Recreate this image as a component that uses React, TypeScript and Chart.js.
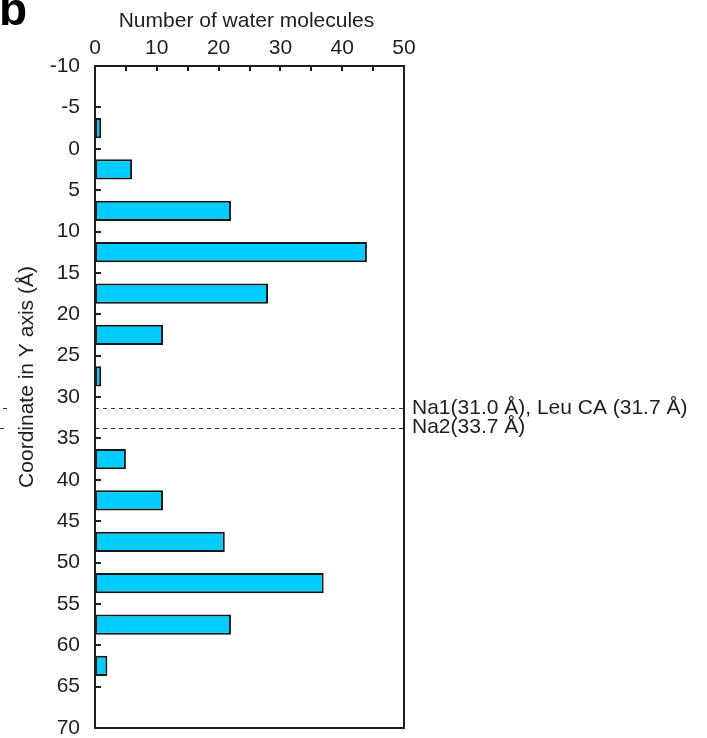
import React, { useEffect, useRef } from 'react';
import { Chart, registerables } from 'chart.js';

Chart.register(...registerables);

// ---- data ----
const binCenters = [-2.5, 2.5, 7.5, 12.5, 17.5, 22.5, 27.5, 37.5, 42.5, 47.5, 52.5, 57.5, 62.5];
const waterCounts = [1, 6, 22, 44, 28, 11, 1, 5, 11, 21, 37, 22, 2];
const markerPositions = [31.35, 33.7];
const markerLabels = ['Na1(31.0 Å), Leu CA (31.7 Å)', 'Na2(33.7 Å)'];
const xTickValues = [0, 10, 20, 30, 40, 50];
const yTickValues = [-10, -5, 0, 5, 10, 15, 20, 25, 30, 35, 40, 45, 50, 55, 60, 65, 70];
const xTitle = 'Number of water molecules';
const yTitle = 'Coordinate in Y axis (Å)';
const panelLetter = 'b';

const FONT = '"Liberation Sans", Arial, Helvetica, sans-serif';
const INK = '#1e1e1e';
const FS = 21;

const overlayPlugin = {
  id: 'overlay',
  afterDatasetsDraw(chart: any) {
    const { ctx, chartArea, scales } = chart;
    const ys = scales.y;
    ctx.save();
    ctx.strokeStyle = '#333';
    ctx.lineWidth = 1;
    ctx.setLineDash([4, 4]);
    markerPositions.forEach((v, i) => {
      const y = Math.round(ys.getPixelForValue(v)) + 0.5;
      ctx.beginPath();
      ctx.moveTo(chartArea.left, y);
      ctx.lineTo(chartArea.right, y);
      ctx.stroke();
      // fragments at far left (continuation of the guide lines)
      ctx.beginPath();
      ctx.moveTo(i === 0 ? 3 : 0, y);
      ctx.lineTo(7, y);
      ctx.stroke();
    });
    ctx.restore();
  },
  afterDraw(chart: any) {
    const { ctx, chartArea, scales } = chart;
    const xs = scales.x;
    const ys = scales.y;
    ctx.save();
    // frame
    ctx.strokeStyle = INK;
    ctx.lineWidth = 2;
    ctx.setLineDash([]);
    ctx.strokeRect(chartArea.left, chartArea.top, chartArea.right - chartArea.left, chartArea.bottom - chartArea.top);
    // inward ticks on top axis (major + minor every 5)
    for (let v = xs.min; v <= xs.max; v += 5) {
      const x = Math.round(xs.getPixelForValue(v));
      ctx.beginPath();
      ctx.moveTo(x, chartArea.top);
      ctx.lineTo(x, chartArea.top + 5);
      ctx.stroke();
    }
    // inward ticks on left axis
    yTickValues.forEach((v) => {
      const y = Math.round(ys.getPixelForValue(v));
      ctx.beginPath();
      ctx.moveTo(chartArea.left, y);
      ctx.lineTo(chartArea.left + 6, y);
      ctx.stroke();
    });
    // axis titles
    ctx.fillStyle = INK;
    ctx.font = `${FS}px ${FONT}`;
    ctx.textAlign = 'center';
    ctx.textBaseline = 'alphabetic';
    ctx.fillText(xTitle, (chartArea.left + chartArea.right) / 2 - 3, 27);
    ctx.save();
    ctx.translate(33, (chartArea.top + chartArea.bottom) / 2 - 20);
    ctx.rotate(-Math.PI / 2);
    ctx.fillText(yTitle, 0, 0);
    ctx.restore();
    // marker labels
    ctx.textAlign = 'left';
    ctx.textBaseline = 'middle';
    markerPositions.forEach((v, i) => {
      const y = ys.getPixelForValue(v);
      ctx.fillText(markerLabels[i], chartArea.right + 8, y);
    });
    // panel letter (cropped at top)
    ctx.fillStyle = '#000';
    ctx.font = `bold 46px ${FONT}`;
    ctx.textBaseline = 'alphabetic';
    ctx.fillText(panelLetter, -1, 25);
    ctx.restore();
  },
};

export default function App() {
  const canvasRef = useRef<HTMLCanvasElement | null>(null);

  useEffect(() => {
    const canvas = canvasRef.current;
    if (!canvas) return;
    const chart = new Chart(canvas, {
      type: 'bar',
      data: {
        datasets: [
          {
            data: binCenters.map((y, i) => ({ x: waterCounts[i], y })),
            backgroundColor: '#00CCFF',
            borderColor: '#151515',
            borderWidth: 2,
            borderSkipped: false,
            barPercentage: 0.49,
            categoryPercentage: 1,
          } as any,
        ],
      },
      options: {
        indexAxis: 'y',
        animation: false,
        responsive: false,
        maintainAspectRatio: false,
        devicePixelRatio: 1,
        layout: { padding: { left: 0, top: 0, right: 303, bottom: 10 } },
        plugins: {
          legend: { display: false },
          tooltip: { enabled: false },
        },
        scales: {
          x: {
            type: 'linear',
            position: 'top',
            min: 0,
            max: 50,
            offset: false,
            afterBuildTicks: (s: any) => {
              s.ticks = xTickValues.map((v) => ({ value: v }));
            },
            ticks: {
              color: INK,
              font: { family: FONT, size: FS },
              padding: 5,
              maxRotation: 0,
              autoSkip: false,
            },
            grid: { display: false, drawTicks: false },
            border: { display: false },
            afterFit: (s: any) => {
              s.height = 66;
              s.paddingLeft = 0;
              s.paddingRight = 0;
            },
          },
          y: {
            type: 'linear',
            reverse: true,
            min: -10,
            max: 70,
            offset: false,
            afterBuildTicks: (s: any) => {
              s.ticks = yTickValues.map((v) => ({ value: v }));
            },
            ticks: {
              color: INK,
              font: { family: FONT, size: FS },
              padding: 15,
              autoSkip: false,
            },
            grid: { display: false, drawTicks: false, offset: false },
            border: { display: false },
            afterFit: (s: any) => {
              s.width = 95;
              s.paddingTop = 0;
              s.paddingBottom = 0;
            },
          },
        },
      } as any,
      plugins: [overlayPlugin],
    });
    return () => chart.destroy();
  }, []);

  return (
    <div style={{ position: 'fixed', left: 0, top: 0, width: 707, height: 738, background: '#fff' }}>
      <canvas ref={canvasRef} width={707} height={738} style={{ display: 'block' }} />
    </div>
  );
}
